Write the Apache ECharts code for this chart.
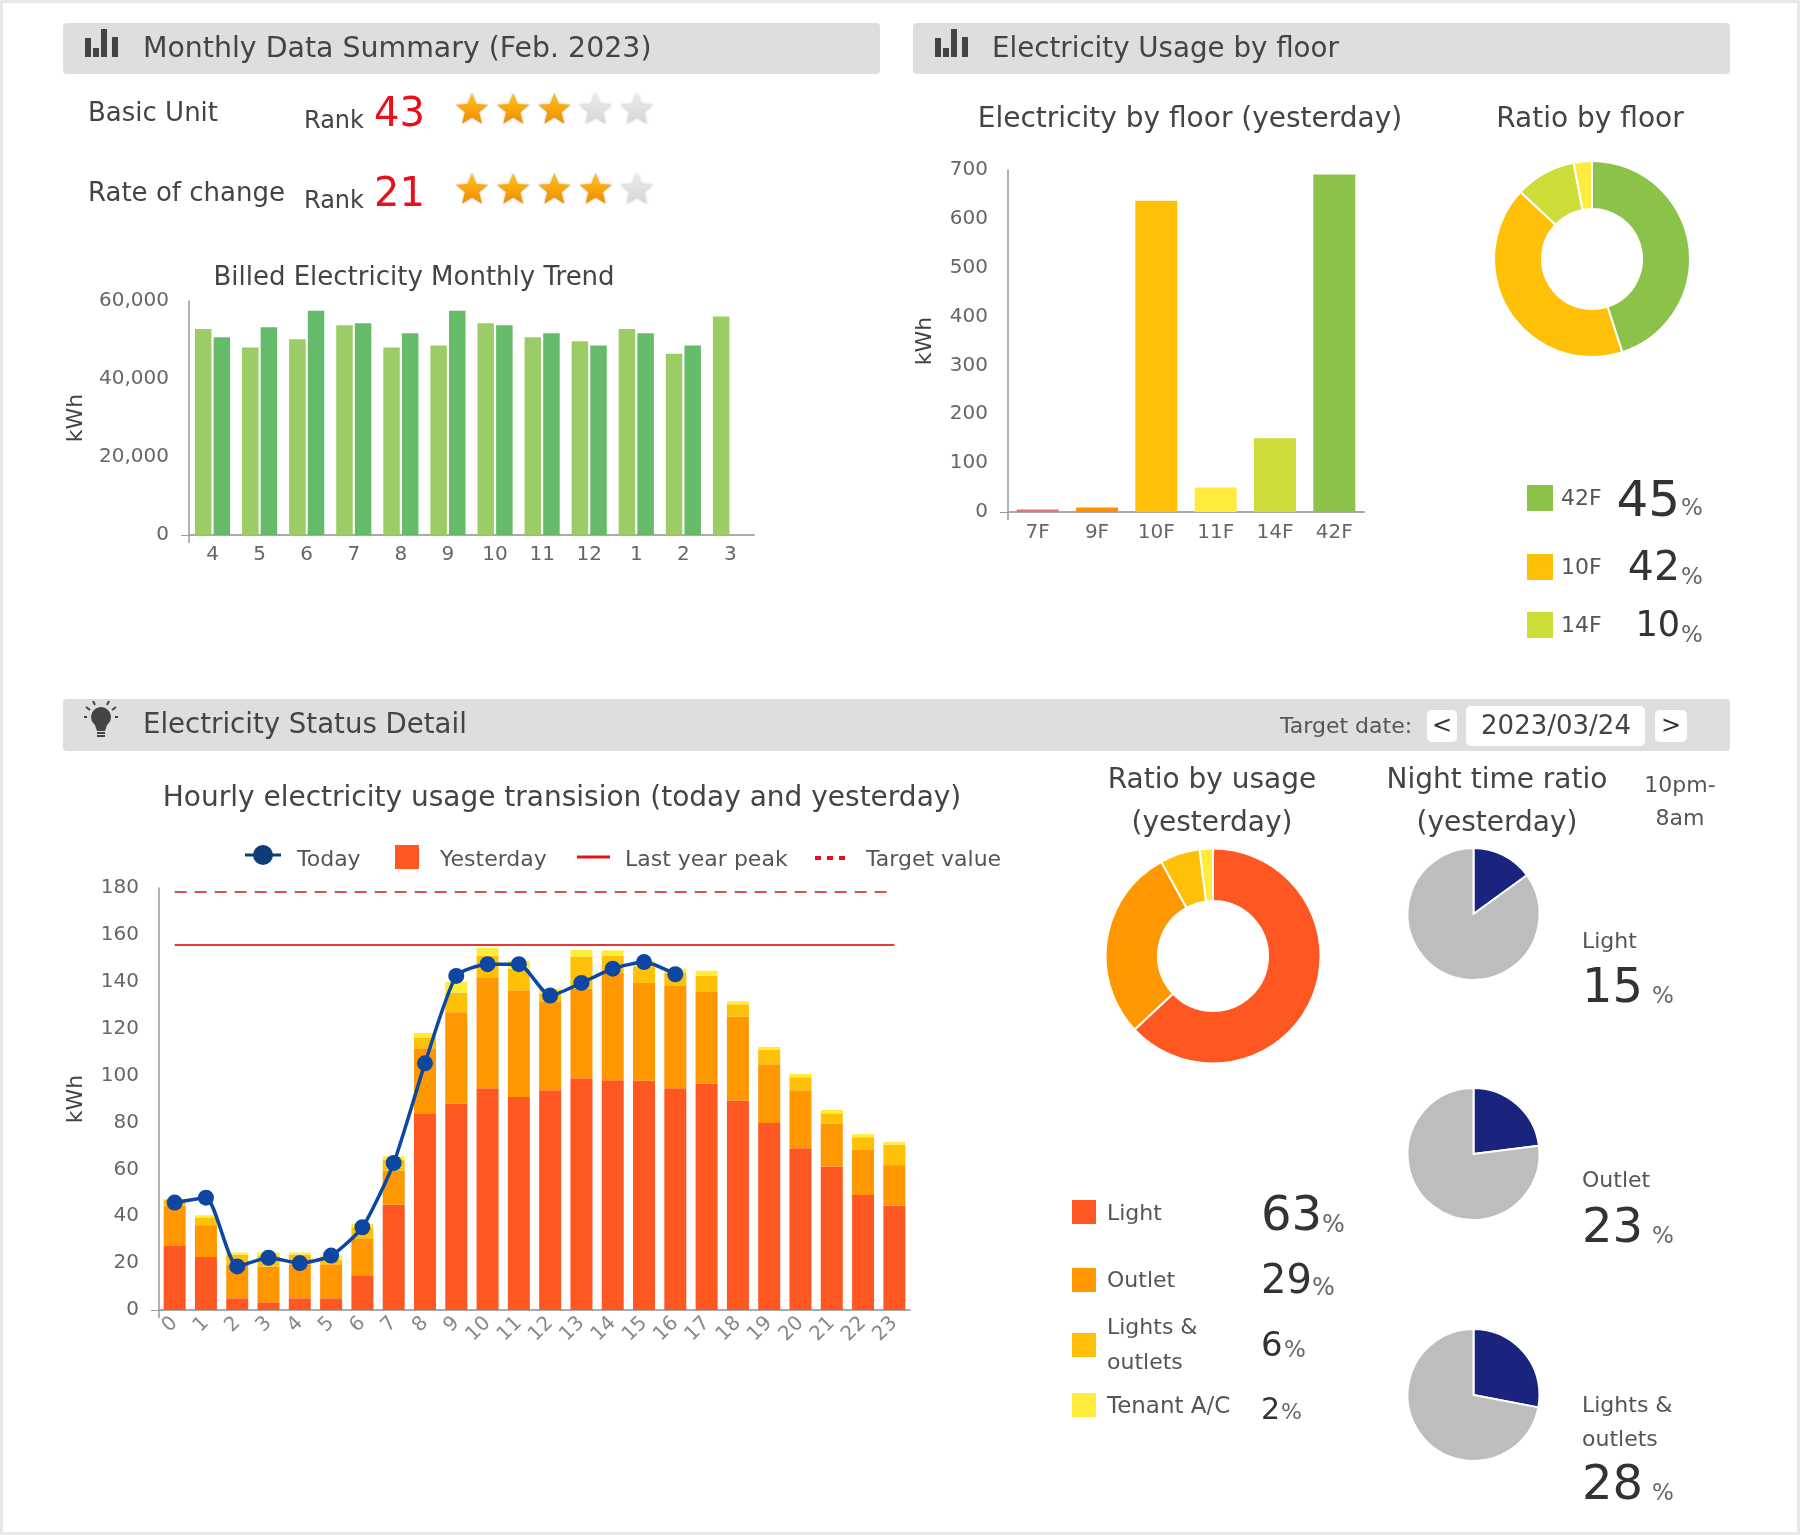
<!DOCTYPE html>
<html lang="en">
<head>
    <meta charset="utf-8">
    <title>Electricity dashboard</title>
    <script src="https://cdnjs.cloudflare.com/ajax/libs/echarts/6.0.0/echarts.min.js"></script>
    <style>
        html, body { margin: 0; padding: 0; background: #fff; }
        #main { width: 1800px; height: 1535px; }
    </style>
</head>
<body>
<div id="main"></div>
<script type="application/javascript">
    // monthly trend
    var monthLabels = ['4', '5', '6', '7', '8', '9', '10', '11', '12', '1', '2', '3'];
    var billedLastYear = [52800, 48100, 50200, 53800, 48100, 48600, 54300, 50700, 49700, 52800, 46500, 56000];
    var billedThisYear = [50700, 53300, 57500, 54300, 51700, 57500, 53800, 51700, 48600, 51700, 48600, null];

    // by floor
    var floorLabels = ['7F', '9F', '10F', '11F', '14F', '42F'];
    var floorKwh = [5, 9, 637, 50, 151, 691];
    var floorColors = ['#e57373', '#ff8f00', '#ffc107', '#ffeb3b', '#cddc39', '#8bc34a'];
    var floorShareNames = ['42F', '10F', '14F', '11F'];
    var floorShare = [45, 42, 10, 3];
    var floorShareColors = ['#8bc34a', '#ffc107', '#cddc39', '#ffeb3b'];

    // hourly, yesterday stack plus today line
    var hours = ['0', '1', '2', '3', '4', '5', '6', '7', '8', '9', '10', '11', '12', '13', '14', '15', '16', '17', '18', '19', '20', '21', '22', '23'];
    var yLight = [27.3, 22.6, 5, 3.3, 5, 5, 14.8, 44.9, 83.9, 88.1, 94.6, 90.9, 93.7, 98.9, 98, 97.8, 94.6, 96.5, 89.4, 79.8, 69, 61.2, 49, 44.5];
    var yOutlet = [17.2, 13.6, 14.5, 15.2, 14.5, 14.5, 15.8, 14.5, 27.8, 38.9, 47.3, 45.5, 38, 38.1, 45.8, 41.7, 43.6, 39.5, 35.8, 25, 24.7, 18.2, 19.6, 17.3];
    var yLightsOutlets = [2.5, 3.1, 4.1, 4.7, 4.1, 1.8, 4.4, 4.6, 4.6, 8.4, 9.3, 9.2, 3.3, 13.6, 7.4, 7.1, 5.6, 6.5, 5.2, 6.1, 5.6, 4.5, 5.1, 8.7];
    var yTenant = [0.5, 1.1, 0.9, 1.3, 0.9, 1.9, 1.7, 1.5, 1.9, 4.6, 3.3, 3.4, 2, 3, 2.2, 2.2, 1.8, 2.2, 1.3, 1.3, 1.4, 1.4, 1.3, 1.1];
    var today = [45.8, 47.9, 18.6, 22.3, 20, 23.2, 35.3, 62.7, 105.2, 142.5, 147.5, 147.5, 134.1, 139.5, 145.6, 148.4, 143.2, null, null, null, null, null, null, null];
    var lastYearPeak = [155.7, 155.7, 155.7, 155.7, 155.7, 155.7, 155.7, 155.7, 155.7, 155.7, 155.7, 155.7, 155.7, 155.7, 155.7, 155.7, 155.7, 155.7, 155.7, 155.7, 155.7, 155.7, 155.7, 155.7];
    var targetValue = [178.3, 178.3, 178.3, 178.3, 178.3, 178.3, 178.3, 178.3, 178.3, 178.3, 178.3, 178.3, 178.3, 178.3, 178.3, 178.3, 178.3, 178.3, 178.3, 178.3, 178.3, 178.3, 178.3, 178.3];

    // ratios
    var usageNames = ['Light', 'Outlet', 'Lights & outlets', 'Tenant A/C'];
    var usageShare = [63, 29, 6, 2];
    var usageColors = ['#ff5722', '#ff9800', '#ffc107', '#ffeb3b'];
    var nightShare = [15, 23, 28];

    // ranks
    var rankValues = [43, 21];
    var starCounts = [3, 4];

    var FONT = 'DejaVu Sans';
    var TXT = '#444';
    var chart = echarts.init(document.getElementById('main'));
    var g = [];

    function txt(x, y, s, size, color, align) {
        g.push({
            type: 'text', x: x, y: y, z: 5,
            style: {text: s, fontFamily: FONT, fontSize: size, fill: color || TXT, align: align || 'left', verticalAlign: 'middle'}
        });
    }
    function box(x, y, w, h, color, r) {
        g.push({type: 'rect', z: 1, shape: {x: x, y: y, width: w, height: h, r: r || 0}, style: {fill: color}});
    }
    function stub(x, y) {
        g.push({type: 'line', z: 1, shape: {x1: x, y1: y, x2: x, y2: y + 8}, style: {stroke: '#999', lineWidth: 1.5}});
    }
    function star(cx, cy, on) {
        var pts = [];
        for (var i = 0; i < 10; i++) {
            var rad = i % 2 ? 7.5 : 17;
            var a = -Math.PI / 2 + i * Math.PI / 5;
            pts.push([cx + rad * Math.cos(a), cy + rad * Math.sin(a)]);
        }
        g.push({
            type: 'polygon', z: 3, shape: {points: pts},
            style: {
                fill: new echarts.graphic.LinearGradient(0, 0, 0, 1, on
                    ? [{offset: 0, color: '#ffc21a'}, {offset: 1, color: '#f08c00'}]
                    : [{offset: 0, color: '#ececec'}, {offset: 1, color: '#d6d6d6'}]),
                shadowBlur: 3, shadowColor: 'rgba(0,0,0,0.25)'
            }
        });
    }
    function barsIcon(x) {
        box(x, 38, 6, 19, TXT);
        box(x + 8, 48, 6, 9, TXT);
        box(x + 16, 29, 6, 28, TXT);
        box(x + 27, 37, 6, 20, TXT);
    }

    // page frame and header bars
    g.push({type: 'rect', z: 0, shape: {x: 0, y: 0, width: 1800, height: 1535}, style: {fill: '#fff', stroke: '#e8e8e8', lineWidth: 6}});
    box(63, 23, 817, 51, '#dedede', 4);
    box(913, 23, 817, 51, '#dedede', 4);
    box(63, 699, 1667, 52, '#dedede', 4);
    barsIcon(85);
    barsIcon(935);
    txt(143, 50, 'Monthly Data Summary (Feb. 2023)', 28.4);
    txt(992, 50, 'Electricity Usage by floor', 27.7);
    txt(143, 726, 'Electricity Status Detail', 27.6);

    // bulb icon
    g.push({type: 'circle', z: 3, shape: {cx: 101, cy: 717, r: 10}, style: {fill: TXT}});
    g.push({type: 'polygon', z: 3, shape: {points: [[94, 722], [108, 722], [105, 731], [97, 731]]}, style: {fill: TXT}});
    box(97, 732, 8, 2, TXT);
    box(97, 735, 8, 2, TXT);
    [[86, 707, 90, 710], [93, 701, 95, 705], [109, 701, 107, 705], [116, 707, 112, 710], [84, 717, 87, 717], [118, 717, 115, 717]].forEach(function (l) {
        g.push({type: 'line', z: 3, shape: {x1: l[0], y1: l[1], x2: l[2], y2: l[3]}, style: {stroke: TXT, lineWidth: 2}});
    });

    // axis line runs a little past the baseline
    stub(189, 535);
    stub(1008, 512);
    stub(159, 1310);

    // rank rows
    var rowY = [111, 191];
    ['Basic Unit', 'Rate of change'].forEach(function (name, i) {
        txt(88, rowY[i] + 3, name, 26);
        txt(304, rowY[i] + 11, 'Rank', 24);
        txt(374, rowY[i] + 5, String(rankValues[i]), 40, '#e8101a');
        for (var k = 0; k < 5; k++) star(472 + k * 41.2, rowY[i] - 1, k < starCounts[i]);
    });

    // floor share legend
    var floorRowY = [497, 566, 624];
    var floorNumSize = [50, 41, 35];
    var floorNumDy = [6, 3, 3];
    for (var i = 0; i < 3; i++) {
        box(1527, floorRowY[i] - 12, 26, 26, floorShareColors[i]);
        txt(1561, floorRowY[i] + 2, floorShareNames[i], 22, '#555');
        txt(1680, floorRowY[i] + floorNumDy[i], String(floorShare[i]), floorNumSize[i], '#333', 'right');
        txt(1681, floorRowY[i] + 12, '%', 23, '#666');
    }

    // target date
    txt(1280, 727, 'Target date:', 22, '#555');
    box(1427, 710, 30, 32, '#fff', 5);
    box(1466, 706, 179, 40, '#fff', 5);
    box(1655, 710, 32, 32, '#fff', 5);
    txt(1442, 727, '<', 24, '#333', 'center');
    txt(1556, 727, '2023/03/24', 26, '#444', 'center');
    txt(1671, 727, '>', 24, '#333', 'center');

    // hourly legend
    g.push({type: 'line', z: 3, shape: {x1: 245, y1: 855, x2: 281, y2: 855}, style: {stroke: '#0d3c78', lineWidth: 3}});
    g.push({type: 'circle', z: 3, shape: {cx: 263, cy: 855, r: 10}, style: {fill: '#0d3c78'}});
    txt(297, 860, 'Today', 22, '#555');
    box(395, 845, 24, 24, '#ff5722');
    txt(440, 860, 'Yesterday', 22, '#555');
    g.push({type: 'line', z: 3, shape: {x1: 577, y1: 857, x2: 610, y2: 857}, style: {stroke: '#e8101a', lineWidth: 3}});
    txt(625, 860, 'Last year peak', 22, '#555');
    g.push({type: 'line', z: 3, shape: {x1: 815, y1: 858, x2: 849, y2: 858}, style: {stroke: '#e8101a', lineWidth: 4, lineDash: [6, 6]}});
    txt(866, 860, 'Target value', 22, '#555');

    // usage legend
    box(1072, 1200, 24, 24, usageColors[0]);
    box(1072, 1268, 24, 24, usageColors[1]);
    box(1072, 1333, 24, 24, usageColors[2]);
    box(1072, 1393, 24, 24, usageColors[3]);
    txt(1107, 1214, usageNames[0], 22, '#555');
    txt(1107, 1281, usageNames[1], 22, '#555');
    txt(1107, 1328, 'Lights &', 22, '#555');
    txt(1107, 1363, 'outlets', 22, '#555');
    txt(1107, 1407, usageNames[3], 23, '#555');
    txt(1261, 1218, String(usageShare[0]), 48, '#333');
    txt(1322, 1226, '%', 24, '#666');
    txt(1261, 1283, String(usageShare[1]), 40, '#333');
    txt(1312, 1289, '%', 24, '#666');
    txt(1261, 1347, String(usageShare[2]), 34, '#333');
    txt(1284, 1351, '%', 23, '#666');
    txt(1261, 1411, String(usageShare[3]), 30, '#333');
    txt(1281, 1413, '%', 22, '#666');

    // night ratio labels
    txt(1680, 786, '10pm-', 22, '#555', 'center');
    txt(1680, 819, '8am', 22, '#555', 'center');
    txt(1582, 942, 'Light', 22, '#555');
    txt(1582, 990, String(nightShare[0]), 48, '#333');
    txt(1652, 997, '%', 23, '#666');
    txt(1582, 1181, 'Outlet', 22, '#555');
    txt(1582, 1230, String(nightShare[1]), 48, '#333');
    txt(1652, 1237, '%', 23, '#666');
    txt(1582, 1406, 'Lights &', 22, '#555');
    txt(1582, 1440, 'outlets', 22, '#555');
    txt(1582, 1487, String(nightShare[2]), 48, '#333');
    txt(1652, 1494, '%', 23, '#666');

    function ttl(text, x, y, size) {
        return {
            text: text, left: x, top: y - 21, padding: 0, textAlign: 'center',
            textStyle: {fontFamily: FONT, fontWeight: 'normal', fontSize: size, color: TXT, lineHeight: 43}
        };
    }
    function donut(cx, cy, inner, outer, values, colors, names) {
        return {
            type: 'pie', center: [cx, cy], radius: [inner, outer], startAngle: 90, silent: true,
            label: {show: false}, labelLine: {show: false},
            itemStyle: {borderColor: '#fff', borderWidth: 2},
            data: values.map(function (v, i) {
                return {value: v, name: names ? names[i] : String(i), itemStyle: {color: colors[i]}};
            })
        };
    }
    function nightPie(cy, v) {
        return donut(1473.5, cy, 0, 66, [v, 100 - v], ['#1a237e', '#bdbdbd'], ['Night', 'Other']);
    }
    function valueAxis(idx, max, step, nameGap) {
        return {
            type: 'value', gridIndex: idx, min: 0, max: max, interval: step,
            name: 'kWh', nameLocation: 'middle', nameGap: nameGap,
            nameTextStyle: {fontFamily: FONT, fontSize: 22, color: TXT},
            axisLine: {show: true, lineStyle: {color: '#999', width: 1.5}},
            axisTick: {show: true, customValues: [0], length: 8, lineStyle: {color: '#999'}},
            axisLabel: {fontFamily: FONT, fontSize: 20, color: '#666', margin: 20},
            splitLine: {lineStyle: {color: '#f0f0f0'}}
        };
    }
    function catAxis(idx, data, extra) {
        var lab = {fontFamily: FONT, fontSize: 20, color: '#666', margin: 10, interval: 0};
        for (var k in extra) lab[k] = extra[k];
        return {
            type: 'category', gridIndex: idx, data: data,
            axisLine: {lineStyle: {color: '#aaa', width: 2}},
            axisTick: {show: false},
            axisLabel: lab
        };
    }
    function stack(name, values, color) {
        return {
            name: name, type: 'bar', xAxisIndex: 2, yAxisIndex: 2, stack: 'yesterday', barWidth: 22,
            itemStyle: {color: color}, data: values
        };
    }

    var option = {
        animation: false,
        graphic: g,
        title: [
            ttl('Billed Electricity Monthly Trend', 414, 278, 26),
            ttl('Electricity by floor (yesterday)', 1190, 119, 28),
            ttl('Ratio by floor', 1590, 119, 28),
            ttl('Hourly electricity usage transision (today and yesterday)', 562, 798, 28),
            ttl('Ratio by usage\n(yesterday)', 1212, 780, 28),
            ttl('Night time ratio\n(yesterday)', 1497, 780, 28)
        ],
        grid: [
            {left: 189, top: 301, width: 565, height: 234},
            {left: 1008, top: 170, width: 356, height: 342},
            {left: 159, top: 888, width: 751, height: 422}
        ],
        xAxis: [
            catAxis(0, monthLabels),
            catAxis(1, floorLabels, {margin: 11}),
            catAxis(2, hours, {rotate: 45, margin: 10, color: '#888'})
        ],
        yAxis: [
            valueAxis(0, 60000, 20000, 102),
            valueAxis(1, 700, 100, 72),
            valueAxis(2, 180, 20, 72)
        ],
        series: [
            {name: 'Last year', type: 'bar', xAxisIndex: 0, yAxisIndex: 0, barWidth: 16.5, barGap: '13%', itemStyle: {color: '#9ccc65'}, data: billedLastYear},
            {name: 'This year', type: 'bar', xAxisIndex: 0, yAxisIndex: 0, barWidth: 16.5, barGap: '13%', itemStyle: {color: '#66bb6a'}, data: billedThisYear},
            {
                name: 'Floor', type: 'bar', xAxisIndex: 1, yAxisIndex: 1, barWidth: 42,
                data: floorKwh.map(function (v, i) { return {value: v, itemStyle: {color: floorColors[i]}}; })
            },
            stack('Light', yLight, usageColors[0]),
            stack('Outlet', yOutlet, usageColors[1]),
            stack('Lights & outlets', yLightsOutlets, usageColors[2]),
            stack('Tenant A/C', yTenant, usageColors[3]),
            {
                name: 'Last year peak', type: 'line', xAxisIndex: 2, yAxisIndex: 2, showSymbol: false, z: 4,
                lineStyle: {color: '#e53935', width: 2}, data: lastYearPeak
            },
            {
                name: 'Target value', type: 'line', xAxisIndex: 2, yAxisIndex: 2, showSymbol: false, z: 4,
                lineStyle: {color: '#d9534f', width: 2, type: [12, 8]}, data: targetValue
            },
            {
                name: 'Today', type: 'line', xAxisIndex: 2, yAxisIndex: 2, smooth: 0.2, z: 6,
                symbol: 'circle', symbolSize: 16, itemStyle: {color: '#0d47a1'},
                lineStyle: {color: '#0d47a1', width: 3.5}, data: today
            },
            donut(1592, 259, 50, 98, floorShare, floorShareColors, floorShareNames),
            donut(1213, 956, 55, 107.5, usageShare, usageColors, usageNames),
            nightPie(914, nightShare[0]),
            nightPie(1154, nightShare[1]),
            nightPie(1395, nightShare[2])
        ]
    };

    chart.setOption(option);
</script>
</body>
</html>
